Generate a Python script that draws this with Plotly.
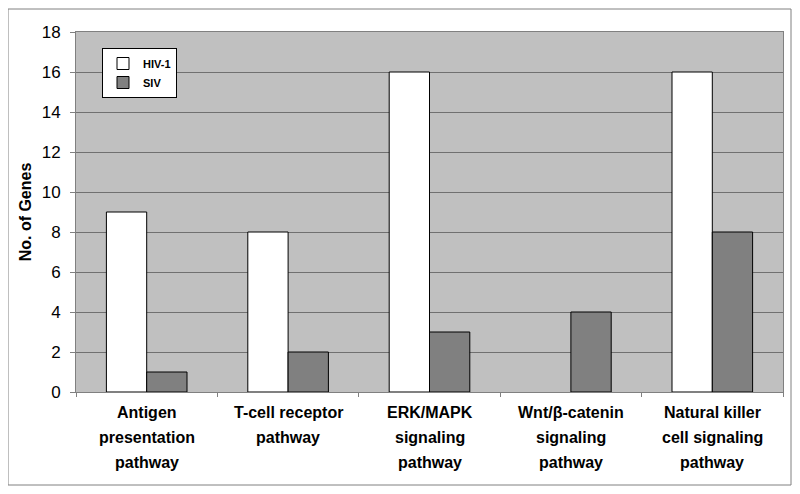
import plotly.graph_objects as go

categories = ["Antigen presentation pathway", "T-cell receptor pathway",
              "ERK/MAPK signaling pathway", "Wnt/β-catenin signaling pathway",
              "Natural killer cell signaling pathway"]
label_lines = [["Antigen", "presentation", "pathway"],
               ["T-cell receptor", "pathway"],
               ["ERK/MAPK", "signaling", "pathway"],
               ["Wnt/β-catenin", "signaling", "pathway"],
               ["Natural killer", "cell signaling", "pathway"]]
hiv1 = [9, 8, 16, 0, 16]
siv = [1, 2, 3, 4, 8]
y_ticks = list(range(0, 20, 2))

font_family = "Liberation Sans, Arial, sans-serif"

fig = go.Figure()
fig.add_trace(go.Bar(name="<b>HIV-1</b>", x=categories, y=hiv1,
                     marker=dict(color="white",
                                 line=dict(color="black", width=[1 if v > 0 else 0 for v in hiv1]))))
fig.add_trace(go.Bar(name="<b>SIV</b>", x=categories, y=siv,
                     marker=dict(color="#808080",
                                 line=dict(color="black", width=[1 if v > 0 else 0 for v in siv]))))

# page body has an 8px margin; work in figure coordinates
OFF = 8
W, H = 784, 478
L = 76 - OFF
T = 32 - OFF
R = W - (783 - OFF)
B = H - (392 - OFF)
pw, ph = W - L - R, H - T - B

def px_x(x):
    return (x - OFF - L) / pw

def px_y(y):
    return (H - B - (y - OFF)) / ph

annotations = []
for cat, lines in zip(categories, label_lines):
    for i, line in enumerate(lines):
        annotations.append(dict(
            x=cat, xref="x", y=0, yref="paper", yanchor="middle",
            yshift=-(20 + 25 * i), showarrow=False,
            text="<b>" + line + "</b>",
            font=dict(size=16, family=font_family, color="black"),
        ))

fig.update_layout(
    width=W, height=H,
    margin=dict(l=L, r=R, t=T, b=B, autoexpand=False),
    paper_bgcolor="white",
    plot_bgcolor="#C0C0C0",
    barmode="group",
    bargap=0.43,
    bargroupgap=0,
    font=dict(family=font_family, color="black"),
    showlegend=True,
    legend=dict(
        x=px_x(102), y=px_y(48), xanchor="left", yanchor="top",
        bgcolor="white", bordercolor="black", borderwidth=1,
        font=dict(size=11, family=font_family),
        tracegroupgap=0, itemwidth=30,
    ),
    xaxis=dict(
        showticklabels=False,
        ticks="outside", tickson="boundaries", ticklen=4, tickcolor="#808080",
        showline=True, linecolor="#808080", linewidth=1, mirror=True,
        showgrid=False,
    ),
    yaxis=dict(
        range=[0, 18], tickvals=y_ticks,
        tickfont=dict(size=17, family=font_family),
        tickprefix="<b>", ticksuffix="</b>",
        ticks="outside", ticklen=5, tickcolor="#808080",
        ticklabelstandoff=6,
        showline=True, linecolor="#808080", linewidth=1, mirror=True,
        showgrid=True, gridcolor="#707070", gridwidth=1,
        zeroline=False,
        title=dict(text="<b>No. of Genes</b>", font=dict(size=16, family=font_family), standoff=6),
    ),
    annotations=annotations,
    shapes=[dict(type="rect", xref="paper", yref="paper",
                 x0=px_x(8), x1=px_x(791), y0=px_y(485), y1=px_y(9),
                 line=dict(color="#808080", width=1), layer="below")],
)

fig.write_html("out.html")
